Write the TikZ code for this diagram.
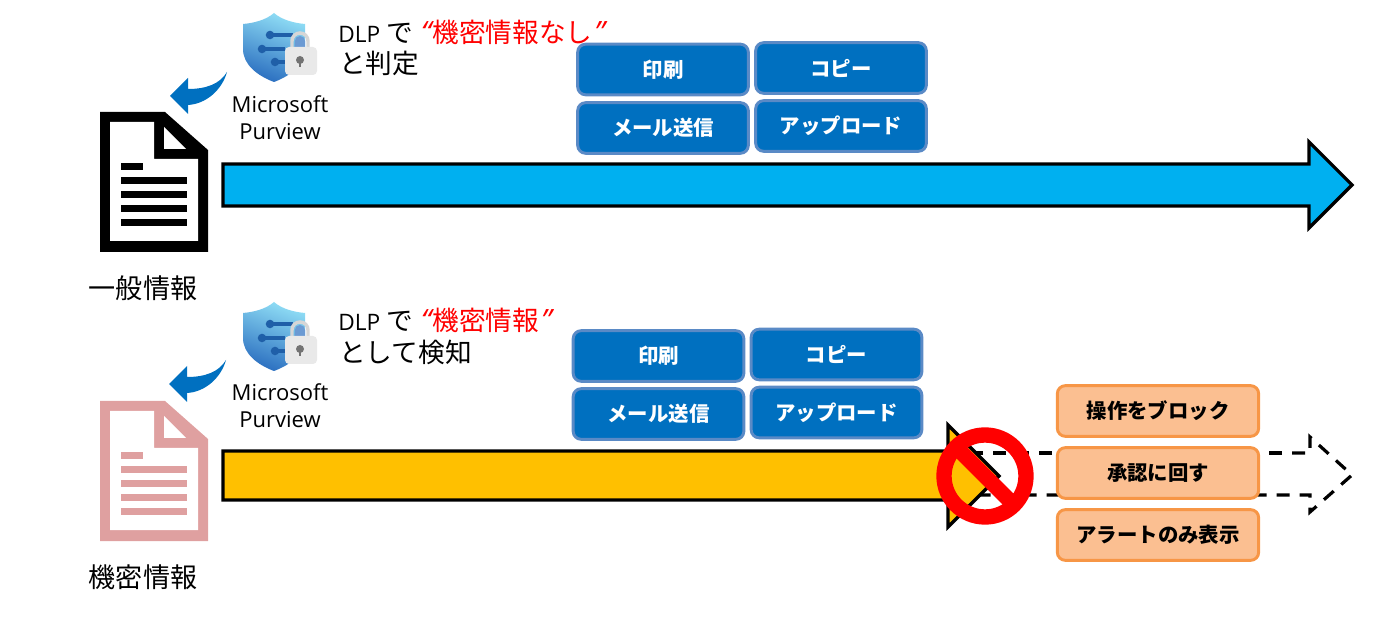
\documentclass[tikz,border=0pt]{standalone}
\usepackage{xcolor}
\usepackage{fontspec}
\setmainfont{Noto Sans CJK JP}
\newfontfamily\latinfont{Open Sans}
\newfontfamily\quotefont[FakeSlant=0.25]{Open Sans}
\usetikzlibrary{positioning, arrows.meta}
\definecolor{actionblue}{HTML}{0070C0}
\definecolor{actionedge}{HTML}{5A8AC6}
\definecolor{flowblue}{HTML}{00B0F0}
\definecolor{flowyellow}{HTML}{FFC000}
\definecolor{resultfill}{HTML}{FBBF91}
\definecolor{resultedge}{HTML}{F79646}
\definecolor{docpink}{HTML}{DFA0A0}
\definecolor{shieldlight}{HTML}{8FDDF5}
\definecolor{shieldmid}{HTML}{3C9BDD}
\definecolor{shielddark}{HTML}{2B6FC0}
\definecolor{shieldbar}{HTML}{1F5FA8}
\definecolor{lockgray}{HTML}{D6D6D6}
\newcommand{\openq}{{\quotefont\fontsize{22}{24}\selectfont “}\hspace{2.5pt}}
\newcommand{\closeq}{{\quotefont\fontsize{22}{24}\selectfont ”}}
\tikzset{
    actionbox/.style={fill=actionblue, draw=actionedge, line width=2.2pt, rounded corners=6pt,
        minimum width=128pt, minimum height=38pt, inner sep=0pt, text=white, font=\fontsize{15.3}{17}\selectfont\bfseries},
    resultbox/.style={fill=resultfill, draw=resultedge, line width=2.2pt, rounded corners=6pt,
        minimum width=151pt, minimum height=38pt, inner sep=0pt, font=\fontsize{15.3}{17}\selectfont\bfseries},
    flowarrow/.style={draw=black, line width=2.4pt, miter limit=10},
    dashedflow/.style={flowarrow, dash pattern=on 9.75pt off 7.5pt},
    doclabel/.style={font=\fontsize{20.3}{24}\selectfont},
    dlplabel/.style={anchor=west, inner sep=0pt, font=\fontsize{20}{24}\selectfont},
    purviewlabel/.style={align=center, inner sep=0pt, font=\fontsize{16.5}{20.5}\selectfont\latinfont},
    docicon/.pic={
        \fill[pic actions] (0,0) -- (65,0) -- (108,38) -- (108,140) -- (0,140) -- cycle;
        \fill[white] (10,10) -- (54,10) -- (54,47) -- (98,47) -- (98,129) -- (10,129) -- cycle;
        \fill[white] (64,15) -- (64,37) -- (86,37) -- cycle;
        \fill[pic actions] (21,51) rectangle (43,58);
        \foreach \liney in {65,79,93,107}
            \fill[pic actions] (21,\liney) rectangle (87,\liney+7);
    },
    % origin is the top of the shield
    purviewicon/.pic={
        \shade[top color=shieldlight, middle color=shieldmid, bottom color=shielddark, shading angle=-20]
            (0,0) .. controls (-8,7) and (-20,10) .. (-31,11) -- (-31,36)
            .. controls (-31,52) and (-16,63) .. (0,69)
            .. controls (16,63) and (31,52) .. (31,36) -- (31,11)
            .. controls (20,10) and (8,7) .. (0,0) -- cycle;
        \draw[shieldbar, line width=2.6pt] (-4,22) -- (19,22) (-12,36) -- (11,36) (1,49) -- (16,49);
        \fill[shieldbar] (-4,22) circle (3.2pt) (-12,36) circle (3.2pt) (1,49) circle (3.2pt);
        \draw[lockgray, line width=2.6pt] (18,36) -- (18,28) arc (180:0:6pt) -- (34,36);
        \fill[shielddark!70] (21,36) -- (21,28) arc (180:0:3.75pt) -- (31,36) -- cycle;
        \fill[lockgray!55, rounded corners=3pt] (11,34) rectangle (43,62);
        \fill[black!55] (26,47) circle (3pt);
        \fill[black!55] (24.8,47) rectangle (27.2,54);
    },
    swoosh/.pic={
        \fill[actionblue] (0,0) -- (18,-18) -- (18,-7)
            .. controls (36,-7) and (50,-12) .. (57,-24)
            .. controls (52,-6) and (36,8) .. (18,9) -- (18,18) -- cycle;
    },
}

\begin{document}
\begin{tikzpicture}[x=0.75pt, y=-0.75pt]
    \useasboundingbox (0,0) rectangle (1400,623);

    % general information row
    \draw[flowarrow, fill=flowblue] (223,164) -- (1309,164) -- (1309,142) -- (1352,185)
        -- (1309,228) -- (1309,206) -- (223,206) -- cycle;
    \pic[black] at (100,112) {docicon};
    \pic at (170,96) {swoosh};
    \pic at (274,13) {purviewicon};
    \node[purviewlabel] (purviewa) at (280,117.5) {Microsoft\\Purview};
    \node[doclabel] (generaldoc) at (143,288) {一般情報};
    \node[dlplabel] (dlpa) at (338,32) {{\latinfont\fontsize{17}{24}\selectfont DLP} で {\color{red}\openq 機密情報なし\closeq}};
    \node[dlplabel] (judgea) at (339,63) {と判定};
    \node[actionbox] (printa) at (663,69.5) {印刷};
    \node[actionbox] (copya) at (841,68) {コピー};
    \node[actionbox] (maila) at (663,128) {メール送信};
    \node[actionbox] (uploada) at (841,126) {アップロード};

    % sensitive information row
    \draw[dashedflow] (1292,453) -- (1310,453) -- (1310,437) -- (1352,475)
        -- (1310,512) -- (1310,495) -- (975,495);
    \draw[dashedflow] (1282,453) -- (975,453);
    \draw[flowarrow, fill=flowyellow] (223,451) -- (948,451) -- (948,425) -- (999,476)
        -- (948,527) -- (948,500) -- (223,500) -- cycle;
    \pic[docpink] at (100,401) {docicon};
    \pic at (169,384) {swoosh};
    \pic at (274,302) {purviewicon};
    \node[purviewlabel] (purviewb) at (280,405.5) {Microsoft\\Purview};
    \node[doclabel] (secretdoc) at (143,577) {機密情報};
    \node[dlplabel] (dlpb) at (338,320) {{\latinfont\fontsize{17}{24}\selectfont DLP} で {\color{red}\openq 機密情報\closeq}};
    \node[dlplabel] (detectb) at (339,352) {として検知};
    \node[actionbox] (printb) at (658.5,356) {印刷};
    \node[actionbox] (copyb) at (836.5,354.5) {コピー};
    \node[actionbox] (mailb) at (658.5,414) {メール送信};
    \node[actionbox] (uploadb) at (836.5,412.5) {アップロード};

    \draw[red, line width=11.5pt] (985,476) circle (41);
    \draw[red, line width=11.5pt] (956,447) -- (1014,505);

    \node[resultbox] (blockop) at (1158,411) {操作をブロック};
    \node[resultbox] (approve) at (1158,473) {承認に回す};
    \node[resultbox] (alertonly) at (1158,535) {アラートのみ表示};
\end{tikzpicture}
\end{document}
